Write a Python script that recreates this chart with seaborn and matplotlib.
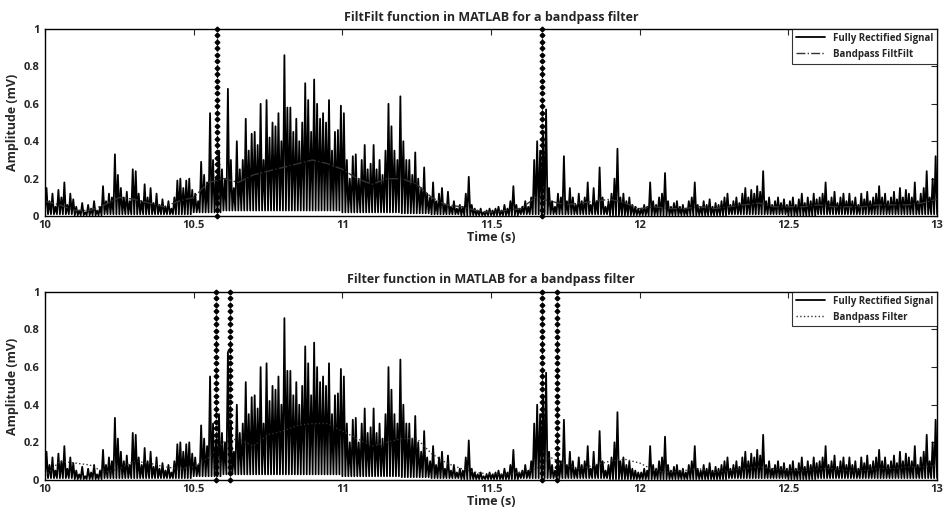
import matplotlib
matplotlib.use('Agg')
import matplotlib.pyplot as plt
import numpy as np
import pandas as pd
import seaborn as sns

# spike peaks of the rectified EMG, one per 10 ms from 10.00 s to 13.00 s
peaks = [
    0.15, 0.08, 0.12, 0.05, 0.14, 0.10, 0.18, 0.06, 0.12, 0.09,
    0.05, 0.03, 0.07, 0.02, 0.06, 0.04, 0.08, 0.03, 0.05, 0.16,
    0.08, 0.12, 0.10, 0.33, 0.22, 0.15, 0.10, 0.13, 0.08, 0.25,
    0.24, 0.12, 0.08, 0.17, 0.10, 0.15, 0.07, 0.12, 0.06, 0.09,
    0.05, 0.08, 0.04, 0.10, 0.19, 0.20, 0.15, 0.19, 0.20, 0.14,
    0.12, 0.08, 0.29, 0.22, 0.18, 0.55, 0.30, 0.20, 0.35, 0.25,
    0.20, 0.68, 0.30, 0.15, 0.40, 0.25, 0.30, 0.52, 0.35, 0.44,
    0.45, 0.38, 0.60, 0.30, 0.62, 0.42, 0.50, 0.48, 0.55, 0.40,
    0.86, 0.58, 0.58, 0.45, 0.52, 0.40, 0.50, 0.71, 0.62, 0.45,
    0.73, 0.60, 0.52, 0.55, 0.50, 0.62, 0.35, 0.45, 0.46, 0.59,
    0.55, 0.30, 0.20, 0.32, 0.33, 0.20, 0.30, 0.38, 0.25, 0.28,
    0.38, 0.25, 0.30, 0.22, 0.35, 0.60, 0.48, 0.35, 0.30, 0.64,
    0.40, 0.30, 0.30, 0.22, 0.34, 0.20, 0.15, 0.26, 0.12, 0.10,
    0.18, 0.08, 0.12, 0.15, 0.06, 0.13, 0.05, 0.08, 0.04, 0.06,
    0.05, 0.12, 0.21, 0.06, 0.04, 0.03, 0.04, 0.02, 0.03, 0.04,
    0.03, 0.04, 0.05, 0.03, 0.06, 0.04, 0.08, 0.16, 0.06, 0.04,
    0.05, 0.08, 0.05, 0.10, 0.30, 0.40, 0.35, 0.45, 0.57, 0.15,
    0.08, 0.05, 0.12, 0.10, 0.32, 0.08, 0.15, 0.10, 0.06, 0.12,
    0.08, 0.10, 0.18, 0.06, 0.15, 0.08, 0.26, 0.10, 0.05, 0.08,
    0.12, 0.20, 0.36, 0.10, 0.12, 0.08, 0.10, 0.06, 0.05, 0.04,
    0.04, 0.06, 0.05, 0.18, 0.08, 0.06, 0.10, 0.12, 0.23, 0.08,
    0.05, 0.07, 0.08, 0.05, 0.06, 0.04, 0.08, 0.10, 0.18, 0.06,
    0.05, 0.08, 0.06, 0.09, 0.05, 0.07, 0.06, 0.08, 0.10, 0.12,
    0.06, 0.08, 0.10, 0.07, 0.12, 0.15, 0.10, 0.14, 0.12, 0.16,
    0.13, 0.24, 0.08, 0.10, 0.06, 0.08, 0.10, 0.07, 0.09, 0.06,
    0.08, 0.10, 0.06, 0.09, 0.12, 0.07, 0.10, 0.08, 0.12, 0.09,
    0.10, 0.12, 0.18, 0.08, 0.10, 0.13, 0.07, 0.10, 0.12, 0.08,
    0.12, 0.08, 0.10, 0.06, 0.12, 0.09, 0.13, 0.08, 0.10, 0.12,
    0.16, 0.10, 0.12, 0.08, 0.10, 0.13, 0.09, 0.15, 0.10, 0.14,
    0.12, 0.10, 0.18, 0.08, 0.12, 0.15, 0.24, 0.10, 0.20, 0.32,
]
# floor level between spikes, one per 100 ms
floor = [0.01, 0.005, 0.01, 0.01, 0.01, 0.02, 0.03, 0.03, 0.03, 0.03,
         0.02, 0.02, 0.015, 0.01, 0.005, 0.005, 0.01, 0.01, 0.01, 0.005,
         0.005, 0.005, 0.005, 0.01, 0.01, 0.005, 0.01, 0.01, 0.01, 0.01]

# smoothed envelopes, one per 50 ms from 10.00 s to 13.00 s
filtfilt = [0.08, 0.06, 0.03, 0.03, 0.06, 0.10, 0.09, 0.07, 0.05, 0.08,
            0.10, 0.18, 0.20, 0.18, 0.22, 0.24, 0.26, 0.28, 0.30, 0.28,
            0.25, 0.20, 0.17, 0.20, 0.20, 0.17, 0.10, 0.06, 0.05, 0.03,
            0.02, 0.03, 0.04, 0.10, 0.08, 0.06, 0.07, 0.08, 0.09, 0.07,
            0.04, 0.05, 0.04, 0.04, 0.05, 0.04, 0.05, 0.06, 0.07, 0.05,
            0.05, 0.05, 0.06, 0.05, 0.05, 0.05, 0.06, 0.06, 0.06, 0.07,
            0.09]
causal = [0.02, 0.10, 0.09, 0.08, 0.04, 0.06, 0.10, 0.09, 0.07, 0.06,
          0.07, 0.12, 0.20, 0.22, 0.18, 0.24, 0.26, 0.29, 0.30, 0.30,
          0.26, 0.22, 0.18, 0.20, 0.22, 0.22, 0.14, 0.09, 0.06, 0.04,
          0.03, 0.03, 0.04, 0.06, 0.12, 0.08, 0.06, 0.08, 0.10, 0.11,
          0.09, 0.05, 0.04, 0.05, 0.06, 0.04, 0.05, 0.06, 0.07, 0.06,
          0.05, 0.05, 0.06, 0.06, 0.05, 0.05, 0.06, 0.06, 0.07, 0.07,
          0.08]

onsets_top = [10.577, 11.671]
onsets_bottom = [10.575, 10.622, 11.671, 11.721]

# rectified signal: floor, spike, floor ... every 5 ms
t_sig = 10 + np.arange(601) * 0.005
sig = np.empty(601)
sig[1::2] = peaks
sig[0::2] = [floor[min(i // 20, 29)] for i in range(0, 601, 2)]
raw = pd.DataFrame({'t': t_sig, 'v': sig})
t_env = 10 + np.arange(61) * 0.05
env = pd.DataFrame({'t': t_env, 'ff': filtfilt, 'f': causal})

sns.set_style('white')
plt.rcParams['font.family'] = ['Open Sans', 'DejaVu Sans']
plt.rcParams['font.weight'] = 'bold'

fig = plt.figure(figsize=(9.44, 5.17), dpi=100)
ax1 = fig.add_axes([0.0477, 0.582, 0.945, 0.362])
ax2 = fig.add_axes([0.0477, 0.0716, 0.945, 0.364])

panels = [
    (ax1, 'ff', '-.', 'Bandpass FiltFilt', onsets_top,
     'FiltFilt function in MATLAB for a bandpass filter'),
    (ax2, 'f', ':', 'Bandpass Filter', onsets_bottom,
     'Filter function in MATLAB for a bandpass filter'),
]
marker_y = np.linspace(0, 1, 30)
for ax, col, ls, lab, onsets, title in panels:
    sns.lineplot(data=raw, x='t', y='v', ax=ax, color='black', lw=1.3,
                 label='Fully Rectified Signal')
    sns.lineplot(data=env, x='t', y=col, ax=ax, color='#333333', lw=1.0,
                 linestyle=ls, label=lab)
    for x0 in onsets:
        ax.plot([x0] * len(marker_y), marker_y, color='black', ls=':',
                marker='D', ms=2.4, lw=0.8, clip_on=False)
    ax.set_xlim(10, 13)
    ax.set_ylim(0, 1)
    ax.set_xticks([10, 10.5, 11, 11.5, 12, 12.5, 13])
    ax.set_xticklabels(['10', '10.5', '11', '11.5', '12', '12.5', '13'])
    ax.set_yticks([0, 0.2, 0.4, 0.6, 0.8, 1])
    ax.set_yticklabels(['0', '0.2', '0.4', '0.6', '0.8', '1'])
    ax.tick_params(direction='in', top=True, right=True, length=4,
                   labelsize=8)
    ax.tick_params(axis='x', pad=3)
    ax.tick_params(axis='y', pad=4)
    ax.set_xlabel('Time (s)', fontsize=9, fontweight='bold', labelpad=0)
    ax.set_ylabel('Amplitude (mV)', fontsize=9, fontweight='bold', labelpad=3)
    ax.set_title(title, fontsize=9, fontweight='bold', pad=6)
    for s in ax.spines.values():
        s.set_color('black')
        s.set_linewidth(1.0)
    leg = ax.legend(loc='upper right', fontsize=7, frameon=True, fancybox=False,
                    borderaxespad=0, handlelength=3, borderpad=0.4,
                    labelspacing=0.5)
    leg.get_frame().set_edgecolor('black')
    leg.get_frame().set_linewidth(0.8)

fig.savefig('out.png', dpi=100)
